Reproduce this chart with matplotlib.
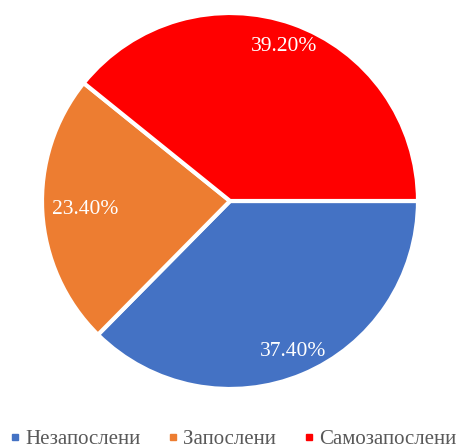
import matplotlib.pyplot as plt
from matplotlib.lines import Line2D

labels = ['Незапослени', 'Запослени', 'Самозапослени']
values = [37.4, 23.4, 39.2]
colors = ['#4472C4', '#ED7D31', '#FF0000']

plt.rcParams['font.family'] = ['Liberation Serif', 'DejaVu Serif']

fig = plt.figure(figsize=(4.61, 4.48), dpi=100)
ax = fig.add_axes([42 / 461, 59 / 448, 376 / 461, 376 / 448])

wedges, texts, autotexts = ax.pie(
    values, colors=colors, startangle=0, counterclock=False,
    autopct=lambda p: '%.2f%%' % p, pctdistance=0.87,
    wedgeprops=dict(edgecolor='white', linewidth=3),
    textprops=dict(color='white', fontsize=15.5))
# excel puts the orange label a bit more inward
x, y = autotexts[1].get_position()
autotexts[1].set_position((x * 0.77 / 0.87, y * 0.77 / 0.87))
ax.set_xlim(-1, 1)
ax.set_ylim(-1, 1)
ax.set_aspect('equal')

handles = [Line2D([], [], marker='s', linestyle='', color=c, markersize=5)
           for c in colors]
fig.legend(handles, labels, loc='center', bbox_to_anchor=(233 / 461, 1 - 439 / 448),
           ncol=3, frameon=False, fontsize=15, labelcolor='#595959',
           handletextpad=0.25, columnspacing=1.3, handlelength=0.5,
           borderpad=0, borderaxespad=0)

fig.savefig('out.png', dpi=100)
